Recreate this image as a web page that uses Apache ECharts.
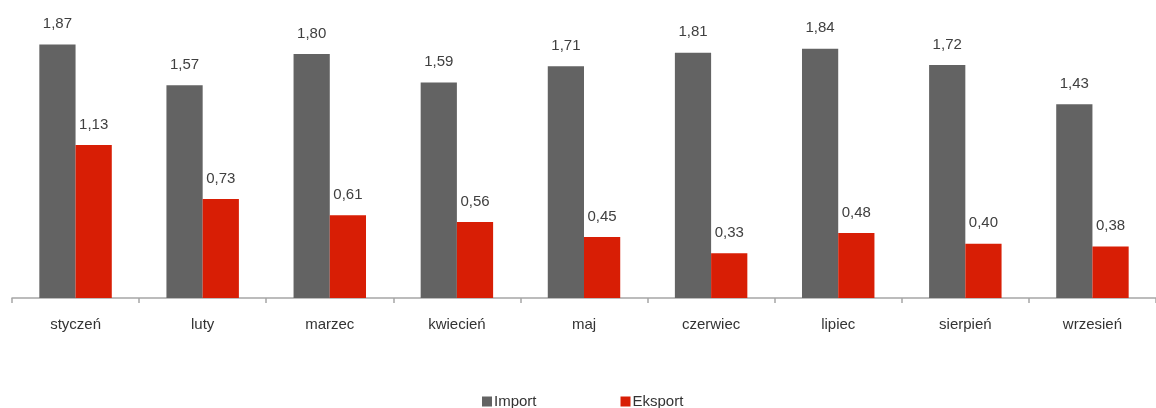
<!DOCTYPE html>
<html>
<head>
<meta charset="utf-8">
<script src="https://cdn.jsdelivr.net/npm/echarts@6/dist/echarts.min.js"></script>
<style>
  html, body { margin: 0; padding: 0; background: #fff; }
  #chart { width: 1156px; height: 408px; }
</style>
</head>
<body>
<div id="chart"></div>
<script>
const months = ['styczeń', 'luty', 'marzec', 'kwiecień', 'maj', 'czerwiec', 'lipiec', 'sierpień', 'wrzesień']
const importData = [1.87, 1.57, 1.80, 1.59, 1.71, 1.81, 1.84, 1.72, 1.43]
const eksportData = [1.13, 0.73, 0.61, 0.56, 0.45, 0.33, 0.48, 0.40, 0.38]

const font = "'Liberation Sans', Arial, sans-serif"
const fmt = p => p.value.toFixed(2).replace('.', ',')

const myChart = echarts.init(document.getElementById('chart'))
const option = {
  animation: false,
  textStyle: { fontFamily: font },
  grid: { left: 12, right: -11, top: 27, bottom: 110 },
  legend: {
    bottom: -6,
    left: 477,
    itemWidth: 10,
    itemHeight: 10,
    itemGap: 84,
    icon: 'rect',
    textStyle: { fontFamily: font, fontSize: 15, color: '#333', padding: [0, 0, 0, -3] },
    data: ['Import', 'Eksport']
  },
  xAxis: {
    type: 'category',
    data: months,
    axisLine: { lineStyle: { color: '#a6a6a6', width: 1.5 } },
    axisTick: { show: true, length: 5, lineStyle: { color: '#a6a6a6', width: 1.5 } },
    axisLabel: { fontFamily: font, fontSize: 15, color: '#333', margin: 19 }
  },
  yAxis: {
    type: 'value',
    min: 0,
    max: 2,
    show: false,
    splitLine: { show: false }
  },
  series: [
    {
      name: 'Import',
      type: 'bar',
      data: importData,
      barGap: '0%',
      barCategoryGap: '43%',
      itemStyle: { color: '#636363' },
      label: { show: true, position: 'top', distance: 13, formatter: fmt, fontFamily: font, fontSize: 15, color: '#404040' }
    },
    {
      name: 'Eksport',
      type: 'bar',
      data: eksportData,
      itemStyle: { color: '#d81e05' },
      label: { show: true, position: 'top', distance: 13, formatter: fmt, fontFamily: font, fontSize: 15, color: '#404040' }
    }
  ]
}
myChart.setOption(option)
</script>
</body>
</html>
